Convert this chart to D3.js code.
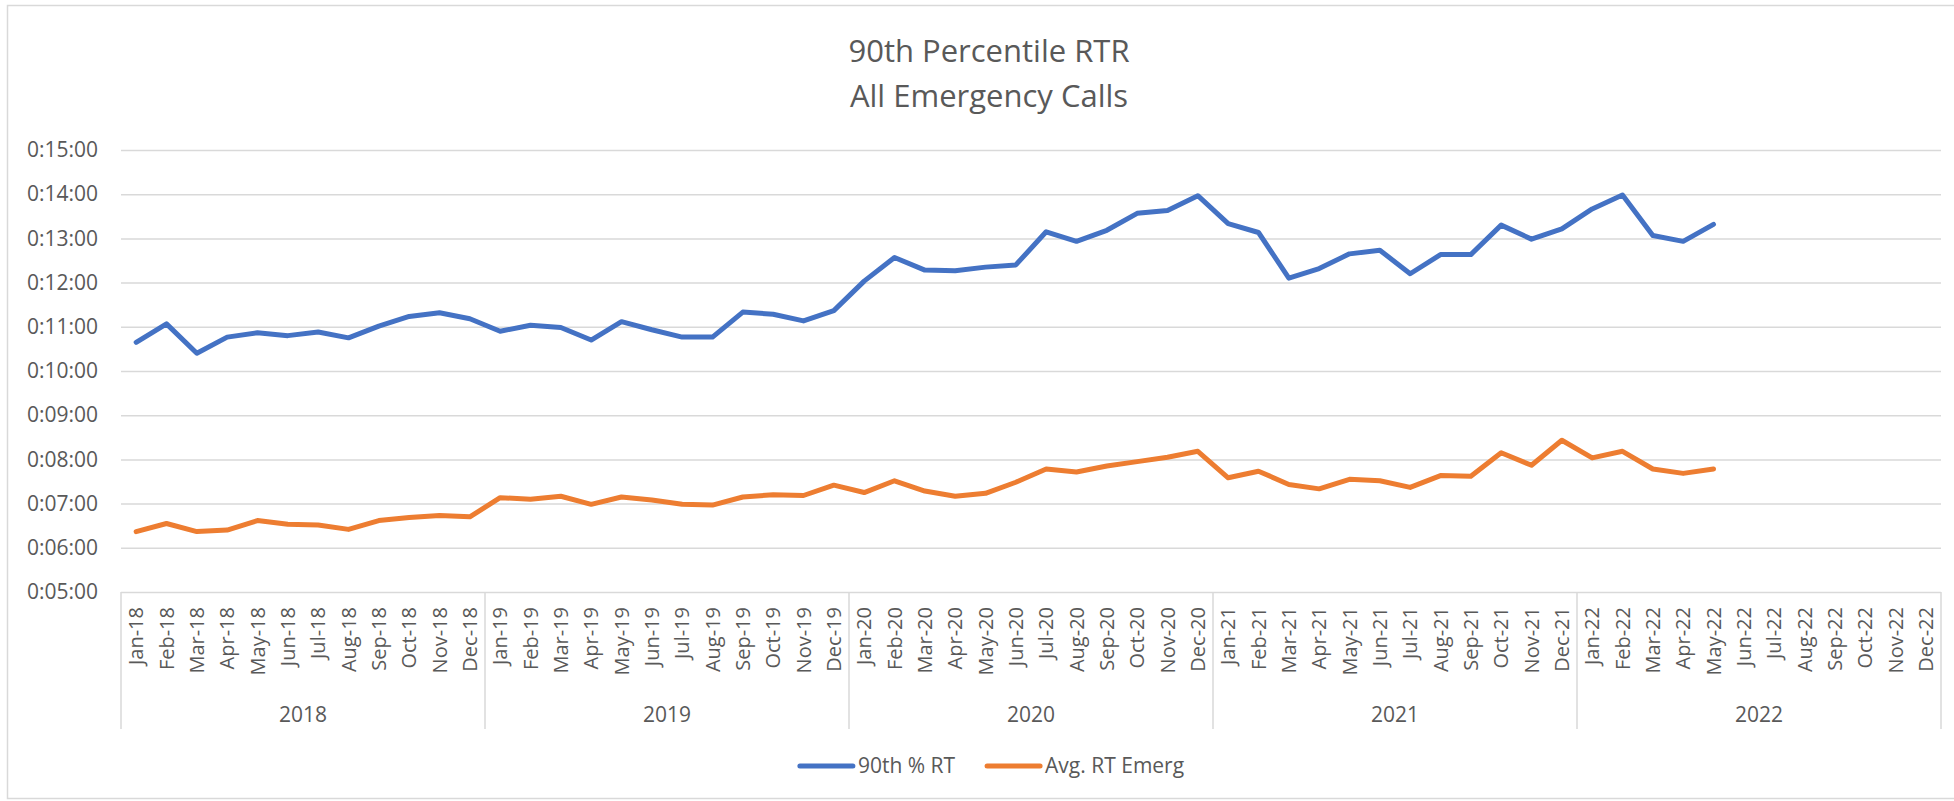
<!DOCTYPE html>
<html>
<head>
<meta charset="utf-8">
<script src="https://cdn.jsdelivr.net/npm/d3@7"></script>
<style>
body { margin: 0; background: #ffffff; }
text { font-family: "Open Sans", sans-serif; fill: #595959; }
</style>
</head>
<body>
<div id="canvas_rtr"></div>
<script>
// ----------------------------------------------------------
// DATA -----------------------------------------------------
// ----------------------------------------------------------
var years = ["2018", "2019", "2020", "2021", "2022"];
var month_names = ["Jan", "Feb", "Mar", "Apr", "May", "Jun", "Jul", "Aug", "Sep", "Oct", "Nov", "Dec"];

// response times, m:ss, Jan-18 .. May-22
var rt_90th = [
"10:39", "11:04", "10:24", "10:46", "10:52", "10:48", "10:53", "10:45", "11:01", "11:14", "11:19", "11:11",
"10:54", "11:02", "10:59", "10:42", "11:07", "10:56", "10:46", "10:46", "11:20", "11:17", "11:08", "11:22",
"12:02", "12:34", "12:17", "12:16", "12:21", "12:24", "13:09", "12:56", "13:11", "13:34", "13:38", "13:58",
"13:20", "13:08", "12:06", "12:19", "12:39", "12:44", "12:12", "12:38", "12:38", "13:18", "12:59", "13:13",
"13:40", "13:59", "13:04", "12:56", "13:19"
];
var rt_avg = [
"6:22", "6:33", "6:22", "6:24", "6:37", "6:32", "6:31", "6:25", "6:37", "6:41", "6:44", "6:42",
"7:08", "7:06", "7:10", "6:59", "7:09", "7:05", "6:59", "6:58", "7:09", "7:12", "7:11", "7:25",
"7:15", "7:31", "7:17", "7:10", "7:14", "7:29", "7:47", "7:43", "7:51", "7:57", "8:03", "8:11",
"7:35", "7:44", "7:26", "7:20", "7:33", "7:31", "7:22", "7:38", "7:37", "8:09", "7:52", "8:26",
"8:02", "8:11", "7:47", "7:41", "7:47"
];

var series_names = ["90th % RT", "Avg. RT Emerg"];
var y_ticks = ["0:05:00", "0:06:00", "0:07:00", "0:08:00", "0:09:00", "0:10:00",
"0:11:00", "0:12:00", "0:13:00", "0:14:00", "0:15:00"];

var text_title = ["90th Percentile RTR", "All Emergency Calls"];

// ----------------------------------------------------------
// SETTINGS -------------------------------------------------
// ----------------------------------------------------------
var set_rtr = {
width: 1954,
height: 801,
plot_left: 121,
plot_right: 1941,
plot_top: 150,
plot_bottom: 592,
group_bottom: 729,
color_blue: "#4472c4",
color_orange: "#ed7d31",
color_grid: "#d9d9d9",
color_text: "#595959"
};

// ----------------------------------------------------------
// STRUCTURE ------------------------------------------------
// ----------------------------------------------------------
var svg = d3.select("#canvas_rtr").append("svg")
.attr("width", set_rtr.width)
.attr("height", set_rtr.height);

// chart border
svg.append("rect")
.attr("x", 7.5)
.attr("y", 5.5)
.attr("width", 1970)
.attr("height", 793)
.style("fill", "#ffffff")
.style("stroke", set_rtr.color_grid)
.style("stroke-width", 1.5);

var grid_group = svg.append("g").attr("class", "grid_group");
var axis_group = svg.append("g").attr("class", "axis_group");
var gfx_group = svg.append("g").attr("class", "gfx_group");
var text_group = svg.append("g").attr("class", "text_group");

// ----------------------------------------------------------
// SCALES & SETUP -------------------------------------------
// ----------------------------------------------------------
function to_sec(s) {
var p = s.split(":").map(Number);
return p.reduce(function(a, b) { return a * 60 + b; }, 0);
}

// one category per month of every year
var categories = [];
years.forEach(function(y) {
month_names.forEach(function(m) { categories.push(m + "-" + y.slice(2)); });
});

var x = d3.scaleBand()
.domain(categories)
.range([set_rtr.plot_left, set_rtr.plot_right])
.padding(0);

var y = d3.scaleLinear()
.domain([to_sec(y_ticks[0]), to_sec(y_ticks[y_ticks.length - 1])])
.range([set_rtr.plot_bottom, set_rtr.plot_top]);

var line_gen = d3.line()
.x(function(d, i) { return x(categories[i]) + x.bandwidth() / 2; })
.y(function(d) { return y(to_sec(d)); });

// ----------------------------------------------------------
// GRID & AXES ----------------------------------------------
// ----------------------------------------------------------
var y_axis = d3.axisLeft(y)
.tickValues(y_ticks.map(to_sec))
.tickSize(-(set_rtr.plot_right - set_rtr.plot_left))
.tickPadding(23)
.tickFormat(function(d, i) { return y_ticks[i]; });

grid_group.append("g")
.attr("transform", "translate(" + set_rtr.plot_left + ",0)")
.call(y_axis)
.call(function(g) { g.select(".domain").remove(); })
.call(function(g) {
g.selectAll("line").style("stroke", set_rtr.color_grid).style("stroke-width", 1.5);
g.selectAll("text")
.style("font-size", "21px")
.style("font-family", "'Open Sans', sans-serif")
.style("fill", set_rtr.color_text);
});

// month labels
var x_axis = d3.axisBottom(x).tickSize(0).tickPadding(0);
axis_group.append("g")
.attr("transform", "translate(0," + set_rtr.plot_bottom + ")")
.call(x_axis)
.call(function(g) { g.select(".domain").remove(); })
.call(function(g) {
g.selectAll("text")
.attr("transform", "translate(0,15) rotate(-90)")
.attr("y", 0)
.attr("dy", "0.36em")
.attr("text-anchor", "end")
.style("font-size", "20px")
.style("font-family", "'Open Sans', sans-serif")
.style("fill", set_rtr.color_text);
});

// year separators
var sep_x = years.map(function(yr) { return x("Jan-" + yr.slice(2)); }).concat([set_rtr.plot_right]);
axis_group.selectAll(".year_sep")
.data(sep_x)
.enter()
.append("line")
.attr("class", "year_sep")
.attr("x1", function(d) { return d; })
.attr("x2", function(d) { return d; })
.attr("y1", set_rtr.plot_bottom)
.attr("y2", set_rtr.group_bottom)
.style("stroke", set_rtr.color_grid)
.style("stroke-width", 1.5);

// year labels
axis_group.selectAll(".year_label")
.data(years)
.enter()
.append("text")
.attr("class", "year_label")
.attr("x", function(d) { return x("Jan-" + d.slice(2)) + x.bandwidth() * 6; })
.attr("y", 722)
.attr("text-anchor", "middle")
.style("font-size", "21px")
.text(function(d) { return d; });

// ----------------------------------------------------------
// GFX ------------------------------------------------------
// ----------------------------------------------------------
gfx_group.append("path")
.datum(rt_90th)
.attr("d", line_gen)
.style("fill", "none")
.style("stroke", set_rtr.color_blue)
.style("stroke-width", 5)
.style("stroke-linejoin", "round")
.style("stroke-linecap", "round");

gfx_group.append("path")
.datum(rt_avg)
.attr("d", line_gen)
.style("fill", "none")
.style("stroke", set_rtr.color_orange)
.style("stroke-width", 5)
.style("stroke-linejoin", "round")
.style("stroke-linecap", "round");

// ----------------------------------------------------------
// TEXT -----------------------------------------------------
// ----------------------------------------------------------
text_group.selectAll(".title")
.data(text_title)
.enter()
.append("text")
.attr("class", "title")
.attr("x", 989)
.attr("y", function(d, i) { return 62 + i * 45; })
.attr("text-anchor", "middle")
.style("font-size", "31px")
.text(function(d) { return d; });

// legend
var legend = text_group.append("g").attr("class", "legend");
var legend_colors = [set_rtr.color_blue, set_rtr.color_orange];
var lx = 0;
series_names.forEach(function(name, i) {
var item = legend.append("g").attr("transform", "translate(" + lx + ",0)");
item.append("line")
.attr("x1", 0).attr("x2", 53)
.attr("y1", 0).attr("y2", 0)
.style("stroke", legend_colors[i])
.style("stroke-width", 5)
.style("stroke-linecap", "round");
var t = item.append("text")
.attr("x", 58)
.attr("dy", "0.35em")
.style("font-size", "21px")
.text(name);
lx += 58 + t.node().getComputedTextLength() + 32;
});
var legend_w = lx - 32;
legend.attr("transform", "translate(" + (992 - legend_w / 2) + ",766)");
</script>
</body>
</html>
